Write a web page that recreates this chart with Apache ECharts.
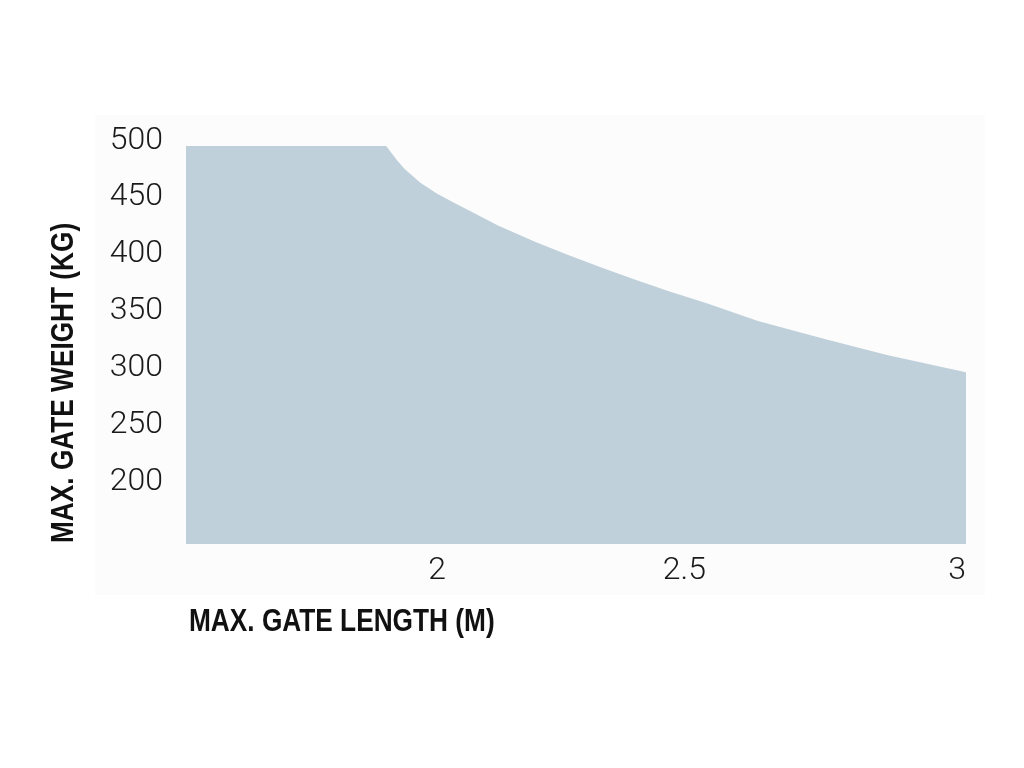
<!DOCTYPE html>
<html>
<head>
<meta charset="utf-8">
<script src="https://cdn.jsdelivr.net/npm/echarts@6/dist/echarts.min.js"></script>
<style>
  html, body { margin: 0; padding: 0; background: #ffffff; }
  #chart { width: 1024px; height: 768px; }
</style>
</head>
<body>
<div id="chart"></div>
<script>
// gate length (m) and the max weight (kg) along the limit curve
var lengths = [1.5, 1.885, 1.905, 1.92, 1.95, 1.983, 2.02, 2.05, 2.1, 2.17, 2.23, 2.3, 2.36, 2.43, 2.5, 2.6, 2.73, 2.85, 3.0];
var weights = [500, 500, 488, 480, 468, 458, 449, 442, 430, 416, 405, 393, 383, 372, 362, 346, 330, 316, 301];
// the little red mark inside the area
var markPoint = [2.648, 295];

var xTitle = "MAX. GATE LENGTH (M)";
var yTitle = "MAX. GATE WEIGHT (KG)";

var titleFont = "'Liberation Sans', Arial, sans-serif";
var tickFont = "Roboto, 'Liberation Sans', sans-serif";

var myChart = echarts.init(document.getElementById("chart"));

var curve = lengths.map(function (l, i) { return [l, weights[i]]; });

myChart.setOption({
  backgroundColor: "#ffffff",
  animation: false,
  grid: { left: 186, right: 58, top: 146, bottom: 224 },
  graphic: [
    {
      type: "rect", z: -10, silent: true,
      shape: { x: 95, y: 115, width: 890, height: 480 },
      style: { fill: "#fcfcfc" }
    },
    {
      // condensed look: squeeze bold text sideways
      type: "text", x: 189, y: 622, scaleX: 0.82,
      style: {
        text: xTitle, font: "bold 32px " + titleFont, fill: "#111111",
        align: "left", verticalAlign: "middle"
      }
    },
    {
      type: "text", x: 64, y: 543, rotation: Math.PI / 2, scaleX: 0.82,
      style: {
        text: yTitle, font: "bold 32px " + titleFont, fill: "#111111",
        align: "left", verticalAlign: "middle"
      }
    }
  ],
  xAxis: {
    type: "value",
    min: 1.5,
    max: 3,
    interval: 0.5,
    axisLine: { show: false },
    axisTick: { show: false },
    splitLine: { show: false },
    axisLabel: {
      showMinLabel: false,
      align: "right",
      margin: 11,
      fontFamily: tickFont,
      fontWeight: 300,
      fontSize: 32,
      color: "#1a1a1a"
    }
  },
  yAxis: {
    type: "value",
    min: 150,
    max: 500,
    interval: 50,
    axisLine: { show: false },
    axisTick: { show: false },
    splitLine: { show: false },
    axisLabel: {
      showMinLabel: false,
      margin: 23,
      // labels sit a little above their value in the original
      verticalAlign: "bottom",
      lineHeight: 11,
      fontFamily: tickFont,
      fontWeight: 300,
      fontSize: 32,
      color: "#1a1a1a"
    }
  },
  series: [
    {
      type: "line",
      data: curve,
      smooth: false,
      symbol: "none",
      lineStyle: { width: 0 },
      areaStyle: { color: "#bfd0db", opacity: 1, origin: "start" }
    },
    {
      type: "scatter",
      data: [markPoint],
      symbolSize: 4,
      itemStyle: { color: "#b8362c" }
    }
  ]
});
</script>
</body>
</html>
